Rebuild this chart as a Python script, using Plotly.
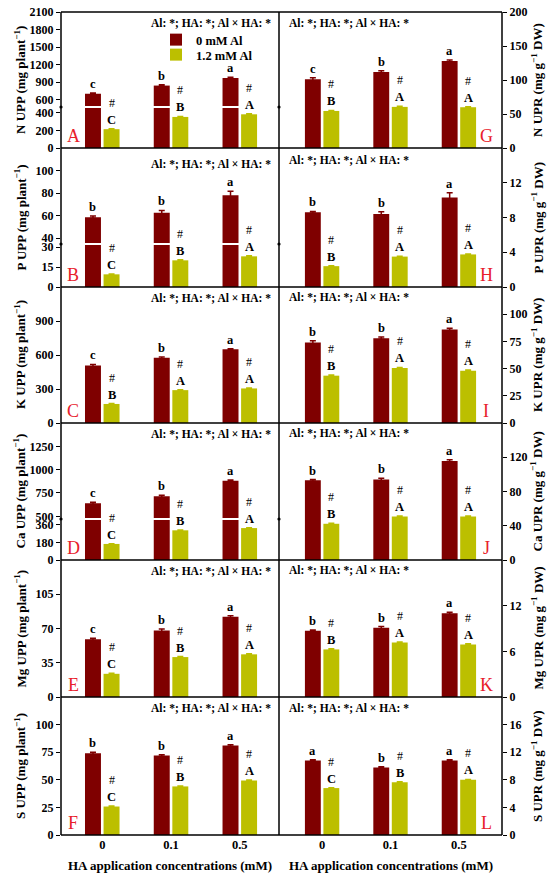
import plotly.graph_objects as go

W, H = 550, 880
MAROON = "#7F0000"
YELLOW = "#BCBF00"
RED = "#E8202A"
FONT = "Liberation Serif"

# HA concentrations (mM)
CONC = ["0", "0.1", "0.5"]
X = [0, 1, 2]

# uptake per plant (UPP, mg plant-1) and uptake rate (UPR, mg g-1 DW)
# ctrl = 0 mM Al, al = 1.2 mM Al
N_UPP_CTRL = [700, 840, 970]
N_UPP_CTRL_SE = [14, 12, 12]
N_UPP_AL = [215, 355, 385]
N_UPP_AL_SE = [5, 5, 5]
N_UPR_CTRL = [101, 112, 128]
N_UPR_CTRL_SE = [2.5, 1.5, 1.5]
N_UPR_AL = [54.5, 60.5, 60]
N_UPR_AL_SE = [0.8, 0.8, 0.8]

P_UPP_CTRL = [58.5, 62.5, 78]
P_UPP_CTRL_SE = [1, 2, 3.5]
P_UPP_AL = [9.5, 20, 23]
P_UPP_AL_SE = [0.3, 0.4, 0.4]
P_UPR_CTRL = [8.6, 8.4, 10.3]
P_UPR_CTRL_SE = [0.1, 0.25, 0.55]
P_UPR_AL = [2.4, 3.5, 3.75]
P_UPR_AL_SE = [0.05, 0.05, 0.05]

K_UPP_CTRL = [507, 575, 650]
K_UPP_CTRL_SE = [10, 8, 6]
K_UPP_AL = [168, 290, 305]
K_UPP_AL_SE = [3, 4, 4]
K_UPR_CTRL = [74, 78, 86]
K_UPR_CTRL_SE = [1.5, 1, 1]
K_UPR_AL = [43.5, 50.5, 48]
K_UPR_AL_SE = [0.6, 0.6, 0.6]

CA_UPP_CTRL = [640, 715, 880]
CA_UPP_CTRL_SE = [10, 12, 8]
CA_UPP_AL = [165, 305, 328]
CA_UPP_AL_SE = [3, 4, 4]
CA_UPR_CTRL = [93, 94, 115.5]
CA_UPR_CTRL_SE = [1, 1.5, 1.5]
CA_UPR_AL = [42.3, 50.8, 50.8]
CA_UPR_AL_SE = [0.6, 0.6, 0.6]

MG_UPP_CTRL = [59, 68, 82]
MG_UPP_CTRL_SE = [1, 1.5, 1]
MG_UPP_AL = [23.7, 40.8, 43.6]
MG_UPP_AL_SE = [0.5, 0.5, 0.5]
MG_UPR_CTRL = [8.7, 9.1, 11]
MG_UPR_CTRL_SE = [0.1, 0.15, 0.15]
MG_UPR_AL = [6.25, 7.15, 6.9]
MG_UPR_AL_SE = [0.08, 0.08, 0.08]

S_UPP_CTRL = [74, 72, 81]
S_UPP_CTRL_SE = [1, 0.8, 0.8]
S_UPP_AL = [25.8, 44, 49.4]
S_UPP_AL_SE = [0.4, 0.4, 0.4]
S_UPR_CTRL = [10.8, 9.8, 10.8]
S_UPR_CTRL_SE = [0.1, 0.1, 0.1]
S_UPR_AL = [6.8, 7.65, 8.0]
S_UPR_AL_SE = [0.06, 0.06, 0.06]

# significance letters
LET_N_UPP = (["c", "b", "a"], ["C", "B", "A"])
LET_N_UPR = (["c", "b", "a"], ["B", "A", "A"])
LET_P_UPP = (["b", "b", "a"], ["C", "B", "A"])
LET_P_UPR = (["b", "b", "a"], ["B", "A", "A"])
LET_K_UPP = (["c", "b", "a"], ["B", "A", "A"])
LET_K_UPR = (["b", "b", "a"], ["B", "A", "A"])
LET_CA_UPP = (["c", "b", "a"], ["C", "B", "A"])
LET_CA_UPR = (["b", "b", "a"], ["B", "A", "A"])
LET_MG_UPP = (["c", "b", "a"], ["C", "B", "A"])
LET_MG_UPR = (["b", "b", "a"], ["B", "A", "A"])
LET_S_UPP = (["b", "b", "a"], ["C", "B", "A"])
LET_S_UPR = (["a", "b", "a"], ["C", "B", "A"])

STATS = "Al: *; HA: *; Al × HA: *"

# layout in window pixels
LEFT_X = (61, 279)
RIGHT_X = (279, 502)
ROWS = [12, 148, 287, 423, 560, 697, 835]
BARGAP = 0.46
OFF = (1 - BARGAP) / 4


def px(x):
    return x / W


def py(y):
    return 1 - y / H


left_specs = [
    dict(d=(N_UPP_CTRL, N_UPP_CTRL_SE, N_UPP_AL, N_UPP_AL_SE), let=LET_N_UPP,
         title="N UPP (mg plant<sup>−1</sup>)", tag="A", sdy=11,
         segs=[(12, 106, [490, 2100.5], [600, 900, 1200, 1500, 1800, 2100]),
               (108, 148, [0, 457], [0, 200, 400])]),
    dict(d=(P_UPP_CTRL, P_UPP_CTRL_SE, P_UPP_AL, P_UPP_AL_SE), let=LET_P_UPP,
         title="P UPP (mg plant<sup>−1</sup>)", tag="B", sdy=16,
         segs=[(148, 243, [35.6, 120], [40, 60, 80, 100]),
               (245, 287, [0, 31.5], [0, 15, 30])]),
    dict(d=(K_UPP_CTRL, K_UPP_CTRL_SE, K_UPP_AL, K_UPP_AL_SE), let=LET_K_UPP,
         title="K UPP (mg plant<sup>−1</sup>)", tag="C", sdy=11,
         segs=[(287, 423, [0, 1200], [0, 300, 600, 900])]),
    dict(d=(CA_UPP_CTRL, CA_UPP_CTRL_SE, CA_UPP_AL, CA_UPP_AL_SE), let=LET_CA_UPP,
         title="Ca UPP (mg plant<sup>−1</sup>)", tag="D", sdy=11,
         segs=[(423, 518, [482, 1500], [500, 750, 1000, 1250]),
               (520, 560, [0, 411], [0, 180, 360])]),
    dict(d=(MG_UPP_CTRL, MG_UPP_CTRL_SE, MG_UPP_AL, MG_UPP_AL_SE), let=LET_MG_UPP,
         title="Mg UPP (mg plant<sup>−1</sup>)", tag="E", sdy=11,
         segs=[(560, 697, [0, 140], [0, 35, 70, 105])]),
    dict(d=(S_UPP_CTRL, S_UPP_CTRL_SE, S_UPP_AL, S_UPP_AL_SE), let=LET_S_UPP,
         title="S UPP (mg plant<sup>−1</sup>)", tag="F", sdy=11,
         segs=[(697, 835, [0, 125], [0, 25, 50, 75, 100])]),
]

right_specs = [
    dict(d=(N_UPR_CTRL, N_UPR_CTRL_SE, N_UPR_AL, N_UPR_AL_SE), let=LET_N_UPR,
         title="N UPR (mg g<sup>−1</sup> DW)", tag="G", sdy=11,
         segs=[(12, 148, [0, 200.1], [0, 50, 100, 150, 200])]),
    dict(d=(P_UPR_CTRL, P_UPR_CTRL_SE, P_UPR_AL, P_UPR_AL_SE), let=LET_P_UPR,
         title="P UPR (mg g<sup>−1</sup> DW)", tag="H", sdy=12,
         segs=[(148, 287, [0, 16], [0, 4, 8, 12])]),
    dict(d=(K_UPR_CTRL, K_UPR_CTRL_SE, K_UPR_AL, K_UPR_AL_SE), let=LET_K_UPR,
         title="K UPR (mg g<sup>−1</sup> DW)", tag="I", sdy=10,
         segs=[(287, 423, [0, 125], [0, 25, 50, 75, 100])]),
    dict(d=(CA_UPR_CTRL, CA_UPR_CTRL_SE, CA_UPR_AL, CA_UPR_AL_SE), let=LET_CA_UPR,
         title="Ca UPR (mg g<sup>−1</sup> DW)", tag="J", sdy=10,
         segs=[(423, 560, [0, 160], [0, 40, 80, 120])]),
    dict(d=(MG_UPR_CTRL, MG_UPR_CTRL_SE, MG_UPR_AL, MG_UPR_AL_SE), let=LET_MG_UPR,
         title="Mg UPR (mg g<sup>−1</sup> DW)", tag="K", sdy=10,
         segs=[(560, 697, [0, 18], [0, 6, 12])]),
    dict(d=(S_UPR_CTRL, S_UPR_CTRL_SE, S_UPR_AL, S_UPR_AL_SE), let=LET_S_UPR,
         title="S UPR (mg g<sup>−1</sup> DW)", tag="L", sdy=11,
         segs=[(697, 835, [0, 20], [0, 4, 8, 12, 16])]),
]

fig = go.Figure()
annotations = []
shapes = []
counter = [0]
tickfont = dict(family=FONT, size=12, color="black", weight="bold")


def add_axes(xcols, top, bottom, xrange, yrange, yticks, side, show_x):
    counter[0] += 1
    i = counter[0]
    xa = "x" if i == 1 else f"x{i}"
    ya = "y" if i == 1 else f"y{i}"
    fig.update_layout(**{
        "xaxis" if i == 1 else f"xaxis{i}": dict(
            domain=[px(xcols[0]), px(xcols[1])], range=xrange, anchor=ya,
            tickvals=X, ticktext=CONC, showticklabels=show_x, ticks="",
            showline=False, showgrid=False, zeroline=False, automargin=False,
            tickfont=dict(tickfont, size=12.5)),
        "yaxis" if i == 1 else f"yaxis{i}": dict(
            domain=[py(bottom), py(top)], range=yrange, anchor=xa, side=side,
            tickvals=yticks, ticks="outside", ticklen=4, tickwidth=1.3, tickcolor="black",
            showline=False, showgrid=False, zeroline=False, automargin=False,
            ticklabeloverflow="allow", tickfont=tickfont),
    })
    return xa, ya


first_legend = [True]


def paper_text(x, y, text, font, xanchor="center", angle=0):
    annotations.append(dict(x=px(x), y=py(y), xref="paper", yref="paper", text=text,
                            showarrow=False, xanchor=xanchor, yanchor="middle",
                            textangle=angle, font=font))


def add_panel(spec, xcols, xrange, side, row, last):
    ctrl, ctrl_se, al, al_se = spec["d"]
    lc, la = spec["let"]
    axes = []
    for (top, bottom, yr, yt) in spec["segs"]:
        xa, ya = add_axes(xcols, top, bottom, xrange, yr, yt, side, last and bottom == ROWS[-1])
        axes.append((xa, ya, yr))
        for vals, se, col, name, lg in ((ctrl, ctrl_se, MAROON, "0 mM Al", "legend"),
                                        (al, al_se, YELLOW, "1.2 mM Al", "legend2")):
            fig.add_trace(go.Bar(
                x=X, y=vals, name=name, marker=dict(color=col, line=dict(width=0)),
                error_y=dict(type="data", array=se, color=col, thickness=1.5, width=3),
                xaxis=xa, yaxis=ya, showlegend=first_legend[0], legend=lg))
        first_legend[0] = False

    def pick(v):
        for xa, ya, yr in axes[::-1]:
            if v <= yr[1]:
                return xa, ya
        return axes[0][0], axes[0][1]

    letter_font = dict(family=FONT, size=12.5, color="black", weight="bold")
    for i in range(3):
        v = ctrl[i] + ctrl_se[i]
        xa, ya = pick(v)
        annotations.append(dict(x=X[i] - OFF, y=v, xref=xa, yref=ya, text=lc[i], showarrow=False,
                                xanchor="center", yanchor="bottom", font=letter_font))
        v = al[i] + al_se[i]
        xa, ya = pick(v)
        annotations.append(dict(x=X[i] + OFF, y=v, xref=xa, yref=ya, text=la[i], showarrow=False,
                                xanchor="center", yanchor="bottom", font=letter_font))
        annotations.append(dict(x=X[i] + OFF, y=v, xref=xa, yref=ya, text="#", showarrow=False,
                                xanchor="center", yanchor="bottom", yshift=17,
                                font=dict(family=FONT, size=12, color="black")))

    top, bottom = ROWS[row], ROWS[row + 1]
    stats_font = dict(family=FONT, size=11.5, color="black", weight="bold")
    tag_font = dict(family=FONT, size=18, color=RED)
    title_font = dict(family=FONT, size=13, color="black", weight="bold")
    if side == "left":
        sx, sanchor, tx, ttl_x = xcols[1] - 6, "right", 73, 20
    else:
        sx, sanchor, tx, ttl_x = xcols[0] + 8, "left", 486, 537
    paper_text(sx, top + spec["sdy"], STATS, stats_font, xanchor=sanchor)
    paper_text(tx, bottom - 12, spec["tag"], tag_font)
    paper_text(ttl_x, (top + bottom) / 2, spec["title"], title_font, angle=-90)
    # axis break marks
    if len(spec["segs"]) > 1:
        yb = (spec["segs"][0][1] + spec["segs"][1][0]) / 2
        for xb in (61, 279):
            shapes.append(dict(type="circle", xref="paper", yref="paper", x0=px(xb - 1.6), x1=px(xb + 1.6),
                               y0=py(yb + 1.6), y1=py(yb - 1.6), fillcolor="black", line=dict(width=0)))


for r, spec in enumerate(left_specs):
    add_panel(spec, LEFT_X, [-0.6, 2.57], "left", r, r == len(left_specs) - 1)
for r, spec in enumerate(right_specs):
    add_panel(spec, RIGHT_X, [-0.63, 2.63], "right", r, r == len(right_specs) - 1)

# panel borders
line = dict(color="black", width=1.5)
for y in ROWS:
    shapes.append(dict(type="line", xref="paper", yref="paper", x0=px(61), x1=px(502), y0=py(y), y1=py(y), line=line))
for x in (61, 279, 502):
    shapes.append(dict(type="line", xref="paper", yref="paper", x0=px(x), x1=px(x), y0=py(ROWS[0]), y1=py(ROWS[-1]), line=line))

for xc in ((61 + 279) / 2, (279 + 502) / 2):
    paper_text(xc, 865, "HA application concentrations (mM)",
               dict(family=FONT, size=13, color="black", weight="bold"))

legend_style = dict(xanchor="left", yanchor="top", bgcolor="rgba(0,0,0,0)",
                    font=dict(family=FONT, size=12.5, color="black", weight="bold"),
                    itemwidth=30)
fig.update_layout(
    width=W, height=H,
    margin=dict(l=0, r=0, t=0, b=0, autoexpand=False),
    paper_bgcolor="white", plot_bgcolor="rgba(0,0,0,0)",
    barmode="group", bargap=BARGAP, bargroupgap=0.14,
    annotations=annotations, shapes=shapes,
    legend=dict(legend_style, x=px(156), y=py(25)),
    legend2=dict(legend_style, x=px(156), y=py(40)),
    font=dict(family=FONT, color="black"),
)

# drop the browser's default page margin so the figure fills the window
fig.write_html("out.html", config={"displayModeBar": False},
               post_script="document.body.style.margin = '0px';")
